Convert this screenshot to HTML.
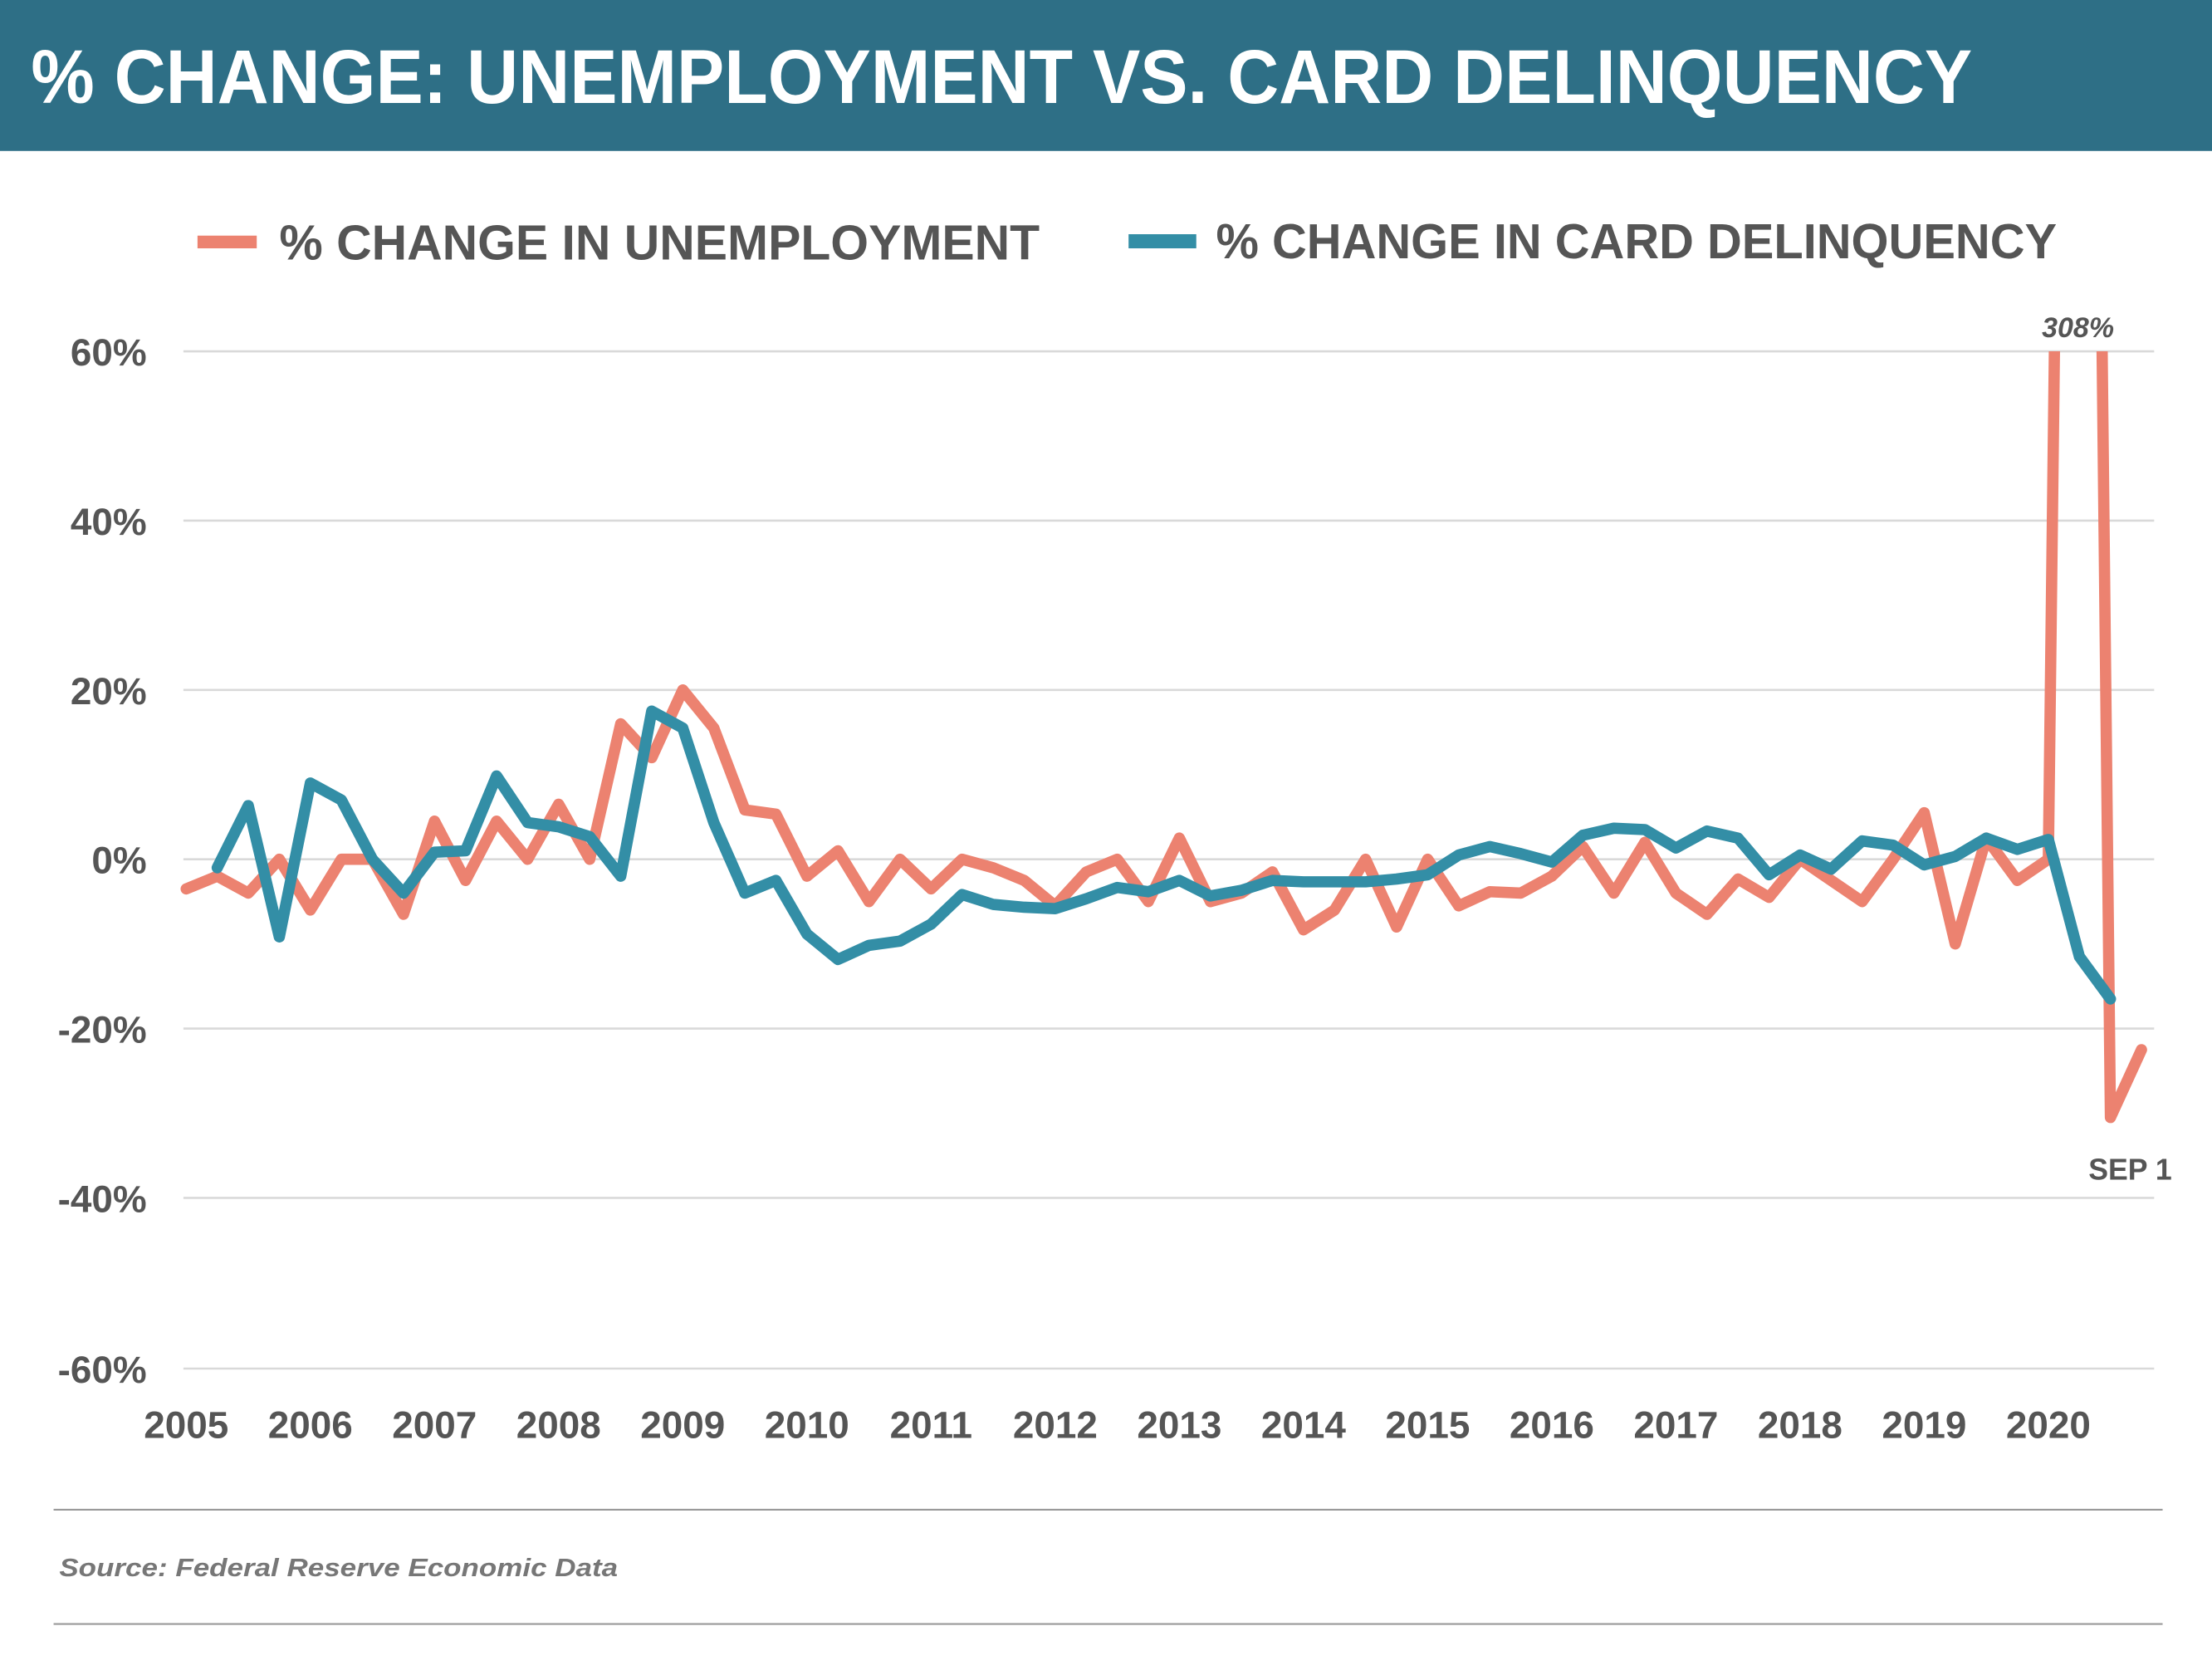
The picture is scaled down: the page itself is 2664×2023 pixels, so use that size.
<!DOCTYPE html>
<html><head><meta charset="utf-8"><style>
html,body{margin:0;padding:0;background:#fff;}
svg{display:block;}
text{font-family:"Liberation Sans",sans-serif;}
</style></head><body>
<svg width="2664" height="2023" viewBox="0 0 1568 1190.7" preserveAspectRatio="none" xmlns="http://www.w3.org/2000/svg">
<rect x="0" y="0" width="1568" height="107" fill="#2e6f86"/>
<text x="22" y="73" font-size="54" font-weight="bold" fill="#fff" textLength="1376" lengthAdjust="spacingAndGlyphs">% CHANGE: UNEMPLOYMENT VS. CARD DELINQUENCY</text>
<rect x="140" y="167" width="42" height="9" fill="#ec8270"/>
<text x="198" y="184" font-size="35" font-weight="bold" fill="#555" textLength="539" lengthAdjust="spacingAndGlyphs">% CHANGE IN UNEMPLOYMENT</text>
<rect x="800" y="166" width="48" height="10" fill="#338ea6"/>
<text x="862" y="183" font-size="35" font-weight="bold" fill="#555" textLength="596" lengthAdjust="spacingAndGlyphs">% CHANGE IN CARD DELINQUENCY</text>
<g stroke="#d9d9d9" stroke-width="1.5">
<line x1="130" y1="249" x2="1527" y2="249"/>
<line x1="130" y1="369" x2="1527" y2="369"/>
<line x1="130" y1="489" x2="1527" y2="489"/>
<line x1="130" y1="609" x2="1527" y2="609"/>
<line x1="130" y1="729" x2="1527" y2="729"/>
<line x1="130" y1="849" x2="1527" y2="849"/>
<line x1="130" y1="970" x2="1527" y2="970"/>
</g>
<g font-size="27" font-weight="bold" fill="#555" text-anchor="end">
<text x="104" y="259">60%</text>
<text x="104" y="379">40%</text>
<text x="104" y="499">20%</text>
<text x="104" y="619">0%</text>
<text x="104" y="739">-20%</text>
<text x="104" y="859">-40%</text>
<text x="104" y="980">-60%</text>
</g>
<g font-size="27" font-weight="bold" fill="#555" text-anchor="middle">
<text x="132" y="1019">2005</text><text x="220" y="1019">2006</text><text x="308" y="1019">2007</text><text x="396" y="1019">2008</text>
<text x="484" y="1019">2009</text><text x="572" y="1019">2010</text><text x="660" y="1019">2011</text><text x="748" y="1019">2012</text>
<text x="836" y="1019">2013</text><text x="924" y="1019">2014</text><text x="1012" y="1019">2015</text><text x="1100" y="1019">2016</text>
<text x="1188" y="1019">2017</text><text x="1276" y="1019">2018</text><text x="1364" y="1019">2019</text><text x="1452" y="1019">2020</text>
</g>
<defs><clipPath id="c"><rect x="120" y="249" width="1440" height="750"/></clipPath></defs>
<g clip-path="url(#c)" fill="none" stroke-width="8" stroke-linejoin="round" stroke-linecap="round">
<polyline stroke="#ec8270" points="132,630 154,621 176,633 198,609 220,645 242,609 264,609 286,648 308,582 330,624 352,582 374,609 396,570 418,609 440,513 462,537 484,489 506,516 528,574 550,577 572,621 594,603 616,639 638,609 660,630 682,609 704,615 726,624 748,642 770,618 792,609 814,639 836,594 858,639 880,633 902,618 924,659 946,645 968,609 990,657 1012,609 1034,642 1056,632 1078,633 1100,621 1122,600 1144,633 1166,597 1188,633 1210,648 1232,623 1254,636 1276,609 1298,624 1320,639 1342,609 1364,576 1386,669 1408,594 1430,624 1452,609 1474,-1239 1496,792 1518,744"/>
<polyline stroke="#338ea6" points="154,615 176,571 198,664 220,555 242,567 264,609 286,633 308,604 330,603 352,550 374,583 396,586 418,593 440,621 462,504 484,516 506,583 528,633 550,624 572,662 594,680 616,670 638,667 660,655 682,634 704,641 726,643 748,644 770,637 792,629 814,632 836,624 858,635 880,631 902,624 924,625 946,625 968,625 990,623 1012,620 1034,606 1056,600 1078,605 1100,611 1122,592 1144,587 1166,588 1188,601 1210,589 1232,594 1254,620 1276,606 1298,616 1320,596 1342,599 1364,613 1386,607 1408,594 1430,602 1452,595 1474,678 1496,708"/>
</g>
<text x="1473" y="239" font-size="20" font-weight="bold" font-style="italic" fill="#555" text-anchor="middle">308%</text>
<text x="1510" y="836" font-size="21" font-weight="bold" fill="#555" text-anchor="middle">SEP 1</text>
<line x1="38" y1="1070" x2="1533" y2="1070" stroke="#999" stroke-width="1.2"/>
<text x="42" y="1117" font-size="18" font-weight="bold" font-style="italic" fill="#777" textLength="396" lengthAdjust="spacingAndGlyphs">Source: Federal Reserve Economic Data</text>
<line x1="38" y1="1151" x2="1533" y2="1151" stroke="#999" stroke-width="1.2"/>
</svg>
</body></html>
